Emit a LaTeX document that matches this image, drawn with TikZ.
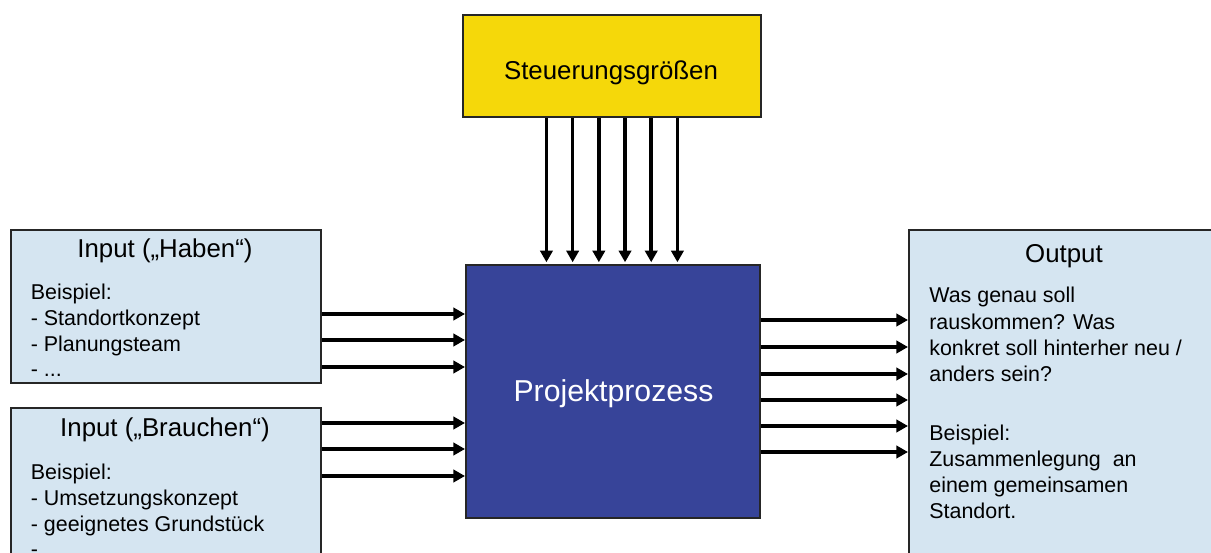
\documentclass[tikz,border=0pt]{standalone}
\usepackage{fontspec}
\setmainfont{Liberation Sans}
\usetikzlibrary{arrows.meta}

\definecolor{steuergelb}{RGB}{245,216,10}
\definecolor{prozessblau}{RGB}{55,68,153}
\definecolor{hellblau}{RGB}{213,229,241}

\begin{document}
\begin{tikzpicture}[x=0.02cm,y=-0.02cm,
    box/.style={draw=black!85,line width=1.1pt,rectangle,anchor=north west,inner sep=0pt},
    titel/.style={anchor=base,inner sep=0pt,font=\fontsize{14.7pt}{17pt}\selectfont},
    body/.style={anchor=north west,inner sep=0pt,align=left},
    flow/.style={line width=2pt,-{Triangle[length=6.6pt,width=7pt]}}]
    \useasboundingbox (0,0) rectangle (1211,553);
    \clip (0,0) rectangle (1211,553);

    % Kasten oben, Prozess in der Mitte
    \node[box,fill=steuergelb,minimum width=5.96cm,minimum height=2.04cm] (steuer) at (462,14) {};
    \node[titel] (steuertext) at (611,80) {Steuerungsgrößen};
    \node[box,fill=prozessblau,minimum width=5.88cm,minimum height=5.06cm] (prozess) at (465,264) {};
    \node[anchor=base,inner sep=0pt,text=white,font=\fontsize{17.2pt}{20pt}\selectfont] (prozesstext) at (613.5,402) {Projektprozess};

    % Inputs links
    \node[box,fill=hellblau,minimum width=6.2cm,minimum height=3.06cm] (haben) at (10,229) {};
    \node[titel] (habentitel) at (165,258) {Input („Haben“)};
    \node[body,font=\fontsize{12.2pt}{14.6pt}\selectfont] (habentext) at (30.5,284)
        {Beispiel:\\- Standortkonzept\\- Planungsteam\\- ...};
    \node[box,fill=hellblau,minimum width=6.2cm,minimum height=4cm] (brauchen) at (10,407) {};
    \node[titel] (brauchentitel) at (165,437) {Input („Brauchen“)};
    \node[body,font=\fontsize{12.2pt}{14.6pt}\selectfont] (brauchentext) at (30.5,464)
        {Beispiel:\\- Umsetzungskonzept\\- geeignetes Grundstück\\- ...};

    % Output rechts
    \node[box,fill=hellblau,minimum width=6.24cm,minimum height=7cm] (output) at (908,229) {};
    \node[titel] (outputtitel) at (1064,263) {Output};
    \node[body,font=\fontsize{12.2pt}{14.9pt}\selectfont] (outputtext) at (929,287)
        {Was genau soll\\rauskommen?  Was\\konkret soll hinterher neu /\\anders sein?\\[18.5pt]
         Beispiel:\\Zusammenlegung~ an\\einem gemeinsamen\\Standort.};

    % Pfeile
    \foreach \dx in {-1.31,-0.786,-0.262,0.262,0.786,1.31}
        \draw[flow] ([xshift=\dx cm]steuer.south) -- ([xshift=\dx cm,yshift=1pt]steuer.south |- prozess.north);
    \foreach \y in {314,340,367}
        \draw[flow] (haben.east |- 0,\y) -- (prozess.west |- 0,\y);
    \foreach \y in {423,449,476}
        \draw[flow] (brauchen.east |- 0,\y) -- (prozess.west |- 0,\y);
    \foreach \y in {320,347,374,400,426,452}
        \draw[flow] (prozess.east |- 0,\y) -- (output.west |- 0,\y);
\end{tikzpicture}
\end{document}
